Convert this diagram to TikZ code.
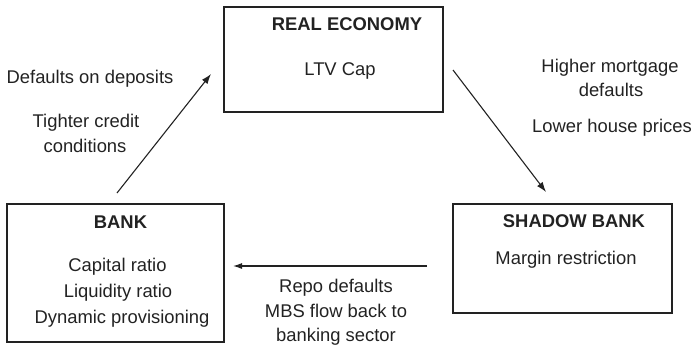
\documentclass[tikz,border=0pt]{standalone}
\usepackage{fontspec}
\setmainfont{Liberation Sans}
\usetikzlibrary{arrows.meta}
\definecolor{ink}{HTML}{222222}
\begin{document}
\begin{tikzpicture}[x=1pt,y=-1pt,
  box/.style={draw=ink,line width=1.1pt,inner sep=0pt},
  lbl/.style={inner sep=0pt,text height=13pt,text depth=4pt,font=\fontsize{18.4}{22}\selectfont,text=ink},
  hdr/.style={lbl,font=\fontsize{18.4}{22}\selectfont\bfseries},
  conn/.style={draw=ink,line width=1.1pt,-{Latex[length=10pt,width=7pt]}}]
\useasboundingbox (0,0) rectangle (693,349);
% boxes
\node[box,minimum width=219pt,minimum height=105pt] (real) at (333.5,59.5) {};
\node[box,minimum width=219pt,minimum height=109pt] (shadow) at (562.5,258.5) {};
\node[box,minimum width=217pt,minimum height=138pt] (bank) at (115.5,273) {};
% box texts
\node[hdr] (realt) at (347,26) {REAL ECONOMY};
\node[lbl] (ltv) at (340,71) {LTV Cap};
\node[hdr] (shadowt) at (574,223) {SHADOW BANK};
\node[lbl] (margin) at (566,260) {Margin restriction};
\node[hdr] (bankt) at (120.5,224) {BANK};
\node[lbl] (cap) at (117.5,267) {Capital ratio};
\node[lbl] (liq) at (118,293) {Liquidity ratio};
\node[lbl] (dyn) at (122,319) {Dynamic provisioning};
% arrow labels
\node[lbl] (dep) at (90,79) {Defaults on deposits};
\node[lbl] (tight) at (86,123) {Tighter credit};
\node[lbl] (cond) at (85,148) {conditions};
\node[lbl] (higher) at (610,68) {Higher mortgage};
\node[lbl] (defs) at (611,92) {defaults};
\node[lbl] (lower) at (612,128) {Lower house prices};
\node[lbl] (repo) at (336,288) {Repo defaults};
\node[lbl] (mbs) at (336,313) {MBS flow back to};
\node[lbl] (bsec) at (336,337) {banking sector};
% connector ends
\coordinate (a1s) at (117,193);
\coordinate (a1e) at (211,74);
\coordinate (a2s) at (453,70);
\coordinate (a2e) at (546,192);
\coordinate (a3s) at (427,266);
\coordinate (a3e) at (233,266);
\draw[conn] (a1s) -- (a1e);
\draw[conn] (a2s) -- (a2e);
\draw[conn,-{Latex[length=9pt,width=6pt]}] (a3s) -- (a3e);
\end{tikzpicture}
\end{document}
